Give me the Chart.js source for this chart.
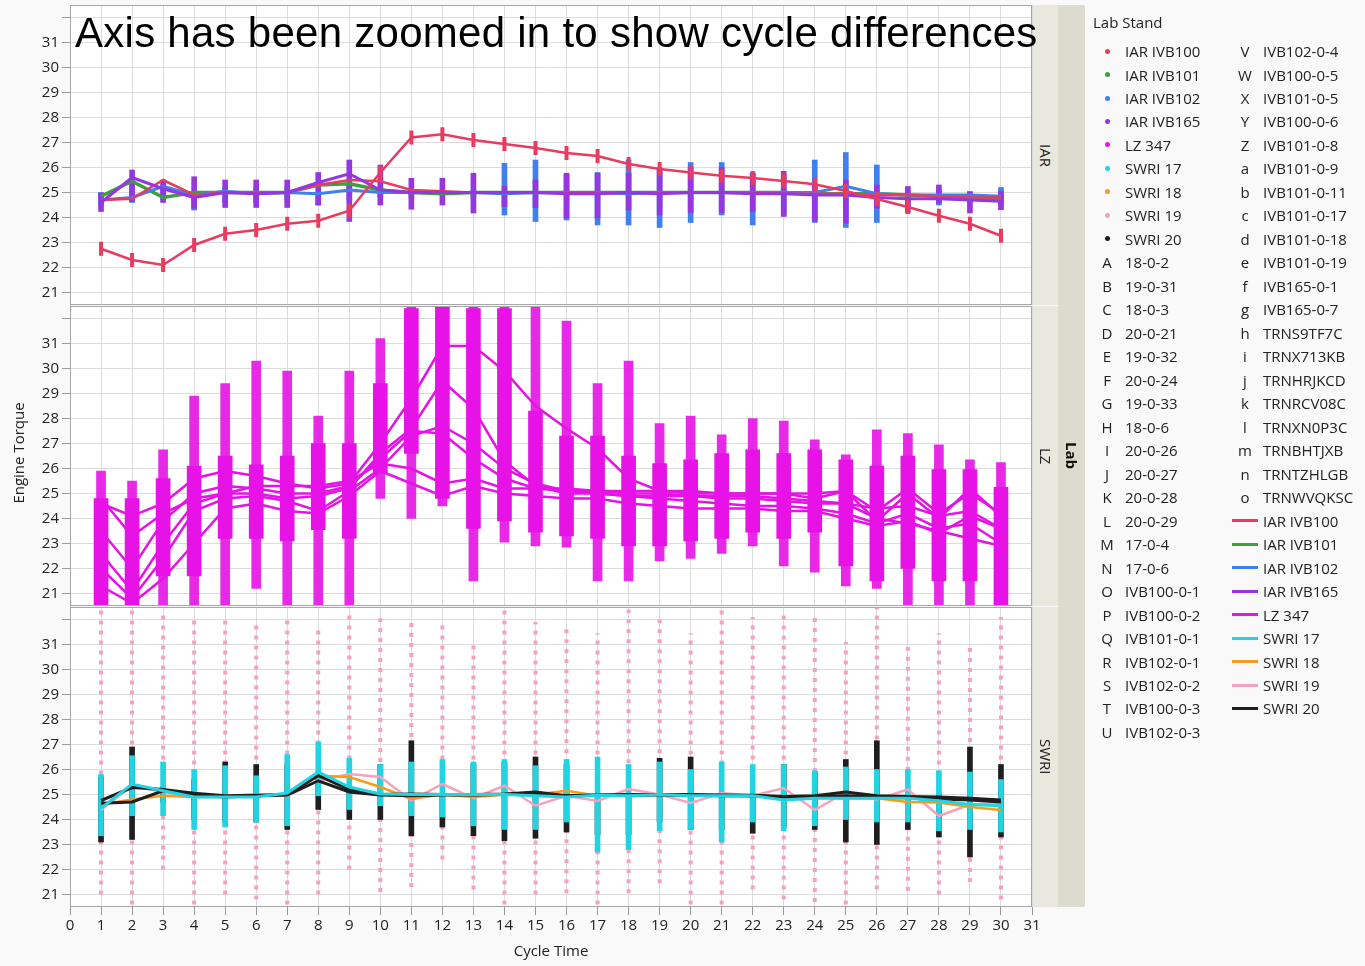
<!DOCTYPE html>
<html><head><meta charset="utf-8">
<script src="https://cdn.jsdelivr.net/npm/chart.js@4.4.1/dist/chart.umd.min.js"></script>
<style>
html,body{margin:0;padding:0;background:#f9f9f9;}
#wrap{position:relative;width:1365px;height:966px;overflow:hidden;background:#f9f9f9;font-family:'Open Sans',sans-serif;color:#222;}
canvas{position:absolute;left:0;}
.strip{position:absolute;left:1033px;width:25px;background:#e9e8df;display:flex;align-items:center;justify-content:center;}
.strip span{writing-mode:vertical-rl;font-size:15px;color:#222;}
#labstrip{position:absolute;left:1058px;top:5px;width:27px;height:902px;background:#dcdbcd;display:flex;align-items:center;justify-content:center;}
#labstrip span{writing-mode:vertical-rl;font-size:15px;font-weight:bold;color:#111;}
#title{position:absolute;left:75px;top:12px;font-family:'Liberation Sans',Arial,sans-serif;font-size:42px;line-height:42px;letter-spacing:0.27px;color:#000;white-space:nowrap;}
#ytitle{position:absolute;left:-42px;top:443px;width:120px;height:20px;line-height:20px;text-align:center;transform:rotate(-90deg);font-size:15px;}
#xtitle{position:absolute;left:451px;top:940px;width:200px;line-height:20px;text-align:center;font-size:15px;}
.lg{position:absolute;font-size:15px;line-height:20px;white-space:nowrap;}
.mk{position:absolute;width:20px;text-align:center;font-size:15px;line-height:20px;}
.dot{position:absolute;width:5px;height:5px;border-radius:50%;}
.sw{position:absolute;width:26px;height:3px;}
</style></head>
<body><div id="wrap">
<canvas id="c1" width="1060" height="340" style="top:-15px"></canvas>
<canvas id="c2" width="1060" height="340" style="top:286px"></canvas>
<canvas id="c3" width="1060" height="379" style="top:587px"></canvas>
<div class="strip" style="top:5px;height:300px"><span>IAR</span></div>
<div class="strip" style="top:306px;height:300px"><span>LZ</span></div>
<div class="strip" style="top:607px;height:300px"><span>SWRI</span></div>
<div id="labstrip"><span>Lab</span></div>
<div id="title">Axis has been zoomed in to show cycle differences</div>
<div id="ytitle">Engine Torque</div>
<div id="xtitle">Cycle Time</div>
<div id="legend"></div>
</div>
<script>
const FONT = "'Open Sans',sans-serif";
const cycles = [1,2,3,4,5,6,7,8,9,10,11,12,13,14,15,16,17,18,19,20,21,22,23,24,25,26,27,28,29,30];
const xTicks = [0,1,2,3,4,5,6,7,8,9,10,11,12,13,14,15,16,17,18,19,20,21,22,23,24,25,26,27,28,29,30,31];
const yTicks = [21,22,23,24,25,26,27,28,29,30,31,32];

// IAR panel
const iar100a = [22.75,22.3,22.1,22.9,23.35,23.5,23.75,23.87,24.27,25.8,27.2,27.33,27.1,26.94,26.78,26.58,26.46,26.14,25.94,25.8,25.67,25.58,25.46,25.33,25.06,24.74,24.42,24.07,23.75,23.27];
const iar100b = [24.7,24.75,25.5,24.9,25.0,25.0,25.0,25.3,25.5,25.45,25.1,25.05,25.0,25.0,25.0,25.0,25.0,25.0,25.0,25.0,25.0,25.0,24.95,24.95,24.95,24.9,24.9,24.85,24.8,24.8];
const iar101 = [24.85,25.45,24.8,25.0,25.0,25.0,25.0,25.3,25.35,25.1,25.0,24.95,25.0,25.0,25.0,25.0,25.0,25.0,25.0,25.0,25.0,25.0,25.0,24.95,24.95,24.95,24.9,24.85,24.8,24.75];
const iar102 = [24.7,24.8,25.25,24.9,25.05,24.95,25.0,24.95,25.1,25.0,25.0,25.0,25.0,24.95,25.0,25.0,25.0,24.95,25.0,25.0,25.0,25.0,25.0,25.0,25.25,24.95,24.9,24.9,24.9,24.85];
const iar165 = [24.6,25.6,25.15,24.8,25.0,24.95,25.0,25.4,25.75,25.1,25.0,25.0,25.0,25.0,25.0,24.95,24.95,25.0,24.95,25.0,25.0,24.95,24.95,24.9,24.9,24.8,24.75,24.75,24.7,24.65];
const iar165Lo = [24.24,24.64,24.6,24.37,24.4,24.4,24.4,24.5,23.84,24.5,24.33,24.5,24.18,24.44,24.4,23.98,23.98,24.3,24.1,24.2,24.2,24.24,24.04,23.84,23.78,24.37,24.18,24.57,24.18,24.31];
const iar165Hi = [24.98,25.9,25.5,25.63,25.5,25.5,25.5,25.8,26.3,26.1,25.57,25.57,25.77,25.24,25.5,25.77,25.77,25.77,26.0,26.0,26.0,25.77,25.85,25.24,25.5,25.3,25.24,25.3,25.04,25.04];
const iar102Lo = [24.5,24.6,24.7,24.3,24.6,24.6,24.7,24.5,24.7,24.8,24.8,24.9,24.8,24.1,23.84,23.9,23.7,23.7,23.6,23.8,24.1,23.7,24.1,23.8,23.6,23.8,24.4,24.5,24.6,24.5];
const iar102Hi = [25.0,25.4,25.3,25.0,25.2,25.2,25.2,24.98,25.3,25.2,25.1,25.1,25.1,26.17,26.3,25.7,25.8,26.3,25.9,26.2,26.2,25.8,25.7,26.3,26.6,26.1,25.0,25.1,25.0,25.2];

// LZ panel
const lzDenseLo = [20.5,20.5,21.7,21.7,23.2,23.2,23.1,23.55,23.2,25.8,26.6,24.8,23.6,23.9,23.45,23.3,23.2,22.9,22.9,23.1,23.2,23.45,23.2,23.45,22.1,21.5,22.0,21.5,21.5,20.5];
const lzDenseHi = [24.8,24.8,25.6,26.1,26.5,26.15,26.5,27.0,27.0,29.4,32.4,32.5,32.4,32.4,28.3,27.3,27.3,26.5,26.2,26.35,26.6,26.75,26.6,26.75,26.35,26.1,26.5,25.96,25.96,25.25];
const lzMarkLo = [20.5,20.5,20.5,20.5,20.5,21.2,20.5,20.5,20.5,24.8,24.0,24.5,21.5,23.05,22.9,22.85,21.5,21.5,22.3,22.4,22.6,22.9,22.1,21.85,21.3,21.2,20.5,20.5,20.5,20.5];
const lzMarkHi = [25.9,25.5,26.75,28.9,29.4,30.3,29.9,28.1,29.9,31.2,32.5,32.5,32.5,32.5,32.5,31.9,29.4,30.3,27.8,28.1,27.35,28.0,27.9,27.15,26.55,27.55,27.4,26.95,26.35,26.24];
const lzRun1 = [24.6,24.1,24.6,25.6,25.9,25.7,25.4,25.2,25.4,27.0,28.8,30.9,30.9,29.9,28.5,27.6,26.8,25.6,25.1,25.0,25.0,25.0,25.0,25.0,25.1,24.3,25.2,24.2,25.0,24.2];
const lzRun2 = [22.6,21.1,23.0,24.6,25.0,25.0,24.8,24.9,25.2,26.6,27.6,29.5,28.4,26.3,25.3,25.0,25.0,24.9,24.9,24.9,24.8,24.8,24.7,24.6,24.6,24.4,24.5,24.1,24.3,23.6];
const lzRun3 = [22.0,20.8,22.4,24.3,24.8,24.9,24.7,24.3,25.1,26.0,27.3,27.7,27.0,26.0,25.4,25.1,25.0,24.9,24.8,24.7,24.6,24.5,24.5,24.4,24.2,23.8,24.2,23.6,23.8,23.0];
const lzRun4 = [23.5,22.0,23.9,25.0,25.3,25.2,25.0,25.0,25.3,26.4,27.5,27.4,26.4,25.6,25.2,25.2,25.1,25.0,25.0,24.9,24.9,24.9,24.8,24.7,24.6,24.0,23.8,23.5,23.2,22.9];
const lzRun5 = [21.3,20.6,21.6,23.0,24.4,24.6,24.3,24.2,24.9,25.9,25.4,24.9,25.3,25.0,24.9,24.8,24.8,24.6,24.5,24.4,24.4,24.4,24.3,24.3,24.0,23.7,23.9,23.4,24.1,23.6];
const lzRun6 = [24.8,23.3,24.2,24.8,25.0,25.3,25.3,25.3,25.5,26.2,26.0,25.4,25.6,25.2,25.2,25.1,25.1,25.1,25.1,25.1,25.0,25.0,25.0,24.8,25.1,23.9,25.0,24.0,25.2,24.1];

// SWRI panel
const swri17 = [24.45,25.42,25.15,24.9,24.9,24.9,25.06,25.9,25.3,25.02,25.0,25.0,25.0,25.0,24.95,24.9,24.97,24.95,25.0,24.95,24.95,24.95,24.78,24.85,24.85,24.85,24.85,24.75,24.6,24.55];
const swri18 = [24.6,24.8,24.95,24.9,24.9,24.95,25.0,25.75,25.7,25.3,24.82,25.0,24.9,25.0,25.0,25.15,24.95,25.0,25.0,24.95,24.95,24.93,24.9,24.88,24.85,24.85,24.7,24.68,24.5,24.38];
const swri19 = [24.38,25.35,25.1,24.9,24.95,25.0,24.95,25.55,25.82,25.7,24.76,25.42,24.85,25.35,24.55,24.95,24.74,25.22,25.0,24.66,25.06,24.95,25.26,24.38,25.1,24.8,25.2,24.14,24.6,24.65];
const swri20a = [24.76,25.28,25.2,25.05,24.95,24.97,25.0,25.75,25.2,25.0,25.02,25.0,25.0,25.02,25.1,24.95,24.98,25.0,25.0,25.0,24.98,24.97,24.92,24.95,25.1,24.95,24.92,24.9,24.85,24.78];
const swri20b = [24.65,24.7,25.15,25.0,24.9,24.95,24.98,25.55,25.1,24.98,24.95,24.98,24.98,25.0,25.02,24.95,24.97,24.97,24.98,24.97,24.95,24.95,24.9,24.92,24.95,24.9,24.88,24.82,24.78,24.7];
const swri17Lo = [23.35,24.15,24.15,23.6,23.7,23.9,23.75,24.95,24.4,24.55,24.15,24.1,23.75,23.6,23.6,23.9,22.7,22.8,23.55,23.6,23.1,23.9,23.55,23.75,24.0,23.9,23.9,23.55,23.6,23.5];
const swri17Hi = [25.8,26.55,26.3,26.0,26.15,25.75,26.6,27.1,26.45,26.2,26.3,26.4,26.3,26.4,26.15,26.4,26.5,26.2,26.3,26.0,26.3,26.2,26.2,25.95,26.1,26.0,26.0,25.95,25.9,25.6];
const swri20Lo = [23.1,23.2,24.7,24.0,23.9,23.9,23.6,24.4,24.0,24.0,23.35,23.7,23.35,23.15,23.25,23.5,23.4,23.4,23.9,23.6,23.6,23.45,23.7,23.6,23.1,23.0,23.6,23.3,22.5,23.3];
const swri20Hi = [25.7,26.9,25.3,25.6,26.3,26.2,26.2,25.75,25.3,26.2,27.15,25.0,26.2,26.3,26.5,26.2,25.0,25.0,26.45,26.5,25.0,25.0,26.2,25.9,26.4,27.15,25.0,25.0,26.9,26.2];
const swri19Lo = [21.0,20.6,22.0,20.6,21.0,20.8,20.6,21.0,22.0,21.1,21.3,22.4,21.2,20.6,21.0,21.05,20.6,21.05,21.45,20.6,20.6,21.2,20.8,20.7,20.6,21.2,21.15,21.0,21.5,20.8];
const swri19Hi = [32.4,32.4,32.4,32.2,32.2,32.0,32.2,31.6,32.4,32.05,31.9,31.9,31.2,32.4,31.9,31.7,31.45,32.4,32.2,31.45,32.4,32.1,32.4,32.25,31.1,32.5,30.9,31.45,31.05,32.1];

// legend
const legendLeft = [
 ['dot','#ea3b5f','IAR IVB100'],['dot','#3f9f3f','IAR IVB101'],['dot','#3f7fef','IAR IVB102'],['dot','#9536e0','IAR IVB165'],
 ['dot','#e815e8','LZ 347'],['dot','#22d3e2','SWRI 17'],['dot','#f89a1c','SWRI 18'],['dot','#f5a3bd','SWRI 19'],['dot','#1e1e1e','SWRI 20'],
 ['A','','18-0-2'],['B','','19-0-31'],['C','','18-0-3'],['D','','20-0-21'],['E','','19-0-32'],['F','','20-0-24'],['G','','19-0-33'],
 ['H','','18-0-6'],['I','','20-0-26'],['J','','20-0-27'],['K','','20-0-28'],['L','','20-0-29'],['M','','17-0-4'],['N','','17-0-6'],
 ['O','','IVB100-0-1'],['P','','IVB100-0-2'],['Q','','IVB101-0-1'],['R','','IVB102-0-1'],['S','','IVB102-0-2'],['T','','IVB100-0-3'],['U','','IVB102-0-3']];
const legendRight = [
 ['V','','IVB102-0-4'],['W','','IVB100-0-5'],['X','','IVB101-0-5'],['Y','','IVB100-0-6'],['Z','','IVB101-0-8'],['a','','IVB101-0-9'],
 ['b','','IVB101-0-11'],['c','','IVB101-0-17'],['d','','IVB101-0-18'],['e','','IVB101-0-19'],['f','','IVB165-0-1'],['g','','IVB165-0-7'],
 ['h','','TRNS9TF7C'],['i','','TRNX713KB'],['j','','TRNHRJKCD'],['k','','TRNRCV08C'],['l','','TRNXN0P3C'],['m','','TRNBHTJXB'],
 ['n','','TRNTZHLGB'],['o','','TRNWVQKSC'],
 ['line','#ea3b5f','IAR IVB100'],['line','#3f9f3f','IAR IVB101'],['line','#3f7fef','IAR IVB102'],['line','#9536e0','IAR IVB165'],
 ['line','#e815e8','LZ 347'],['line','#22d3e2','SWRI 17'],['line','#f89a1c','SWRI 18'],['line','#f5a3bd','SWRI 19'],['line','#1e1e1e','SWRI 20']];

const C = {red:'#ea3b5f',green:'#3f9f3f',blue:'#3f7fef',purple:'#9536e0',mag:'#e612e6',cyan:'#22d3e2',orange:'#f89a1c',pink:'#f5a3bd',black:'#1e1e1e'};

function pts(arr){ return cycles.map((c,i)=>({x:c,y:arr[i]})); }
function rng(lo,hi){ return cycles.map((c,i)=>({x:c,y:[lo[i],hi[i]]})); }
function lineDs(arr,color,w,order,extra){ return Object.assign({type:'line',data:pts(arr),borderColor:color,backgroundColor:color,borderWidth:w,pointRadius:0,tension:0,order:order,clip:0},extra||{}); }
function barDs(lo,hi,color,w,order){ return {type:'bar',data:rng(lo,hi),backgroundColor:color,borderWidth:0,barThickness:w,grouped:false,order:order,clip:0}; }

const framePlugin = {
  id:'frame',
  beforeDraw(chart){ const a=chart.chartArea,ctx=chart.ctx; ctx.save(); ctx.fillStyle='#ffffff'; ctx.fillRect(a.left,a.top,a.right-a.left,a.bottom-a.top); ctx.restore(); },
  afterDraw(chart){ const a=chart.chartArea,ctx=chart.ctx; ctx.save(); ctx.strokeStyle='#a6a6a6'; ctx.lineWidth=1; ctx.strokeRect(a.left+0.5,a.top+0.5,a.right-a.left-1,a.bottom-a.top-1); ctx.restore(); }
};

function opts(bottom){
  return {
    responsive:false, animation:false, devicePixelRatio:1,
    layout:{padding:{left:0,right:28,top:20,bottom:bottom?0:20}},
    plugins:{legend:{display:false},tooltip:{enabled:false}},
    scales:{
      x:{type:'linear',min:0,max:31,offset:false,
        afterBuildTicks:s=>{ s.ticks = xTicks.map(v=>({value:v})); },
        afterFit:s=>{ s.height = bottom?59:0; },
        grid:{color:'#dcdcdc',lineWidth:1,drawTicks:bottom,tickLength:8,tickColor:'#9a9a9a',offset:false},
        border:{display:false},
        ticks:{display:bottom,autoSkip:false,maxRotation:0,color:'#222',font:{family:FONT,size:15},padding:2}
      },
      y:{type:'linear',min:20.5,max:32.5,
        afterBuildTicks:s=>{ s.ticks = yTicks.map(v=>({value:v})); },
        afterFit:s=>{ s.width = 70; },
        grid:{color:'#dcdcdc',lineWidth:1,tickLength:8,tickColor:'#9a9a9a'},
        border:{display:true,color:'#a6a6a6'},
        ticks:{color:'#222',font:{family:FONT,size:15},padding:3,callback:(v)=> v===32?'':String(v)}
      }
    }
  };
}

// panel 1 IAR
new Chart(document.getElementById('c1'),{
  type:'line',
  data:{datasets:[
    lineDs(iar100a,C.red,2.5,1,{pointStyle:'line',pointRadius:7,pointRotation:90,pointBorderWidth:4,pointBorderColor:C.red}),
    lineDs(iar165,C.purple,3,2),
    lineDs(iar100b,C.red,2.5,3),
    lineDs(iar102,C.blue,3,4),
    lineDs(iar101,C.green,3.5,5),
    barDs(iar165Lo,iar165Hi,C.purple,5,8),
    barDs(iar102Lo,iar102Hi,C.blue,5,9)
  ]},
  options:opts(false), plugins:[framePlugin]
});

// panel 2 LZ
new Chart(document.getElementById('c2'),{
  type:'line',
  data:{datasets:[
    lineDs(lzRun1,C.mag,2.5,1), lineDs(lzRun2,C.mag,2.5,1), lineDs(lzRun3,C.mag,2.5,1),
    lineDs(lzRun4,C.mag,2.5,1), lineDs(lzRun5,C.mag,2.5,1), lineDs(lzRun6,C.mag,2.5,1),
    barDs(lzDenseLo,lzDenseHi,C.mag,14,8),
    barDs(lzMarkLo,lzMarkHi,'rgba(230,18,230,0.9)',9,9)
  ]},
  options:opts(false), plugins:[framePlugin]
});

// panel 3 SWRI
const pinkCols = [];
cycles.forEach((c,i)=>{ pinkCols.push({x:c,y:swri19Lo[i]}); pinkCols.push({x:c,y:swri19Hi[i]}); pinkCols.push({x:c,y:null}); });
new Chart(document.getElementById('c3'),{
  type:'line',
  data:{datasets:[
    lineDs(swri17,C.cyan,3,1),
    lineDs(swri20a,C.black,3,2),
    lineDs(swri20b,C.black,3,2),
    lineDs(swri18,C.orange,2.5,3),
    lineDs(swri19,C.pink,2.5,4),
    barDs(swri17Lo,swri17Hi,C.cyan,5,8),
    barDs(swri20Lo,swri20Hi,C.black,5,9),
    {type:'line',data:pinkCols,borderColor:C.pink,borderWidth:4,borderDash:[4,6],borderCapStyle:'butt',pointRadius:0,spanGaps:false,order:12,clip:0}
  ]},
  options:opts(true), plugins:[framePlugin]
});

// legend (HTML)
(function(){
  const L = document.getElementById('legend');
  let h = '<div class="lg" style="left:1093px;top:12px">Lab Stand</div>';
  const y0 = 51, dy = 23.48;
  legendLeft.forEach((e,i)=>{
    const yc = y0 + i*dy;
    if(e[0]==='dot') h += `<div class="dot" style="left:${1105}px;top:${(yc-2.5).toFixed(1)}px;background:${e[1]}"></div>`;
    else h += `<div class="mk" style="left:1097px;top:${(yc-10).toFixed(1)}px">${e[0]}</div>`;
    h += `<div class="lg" style="left:1125px;top:${(yc-10).toFixed(1)}px">${e[2]}</div>`;
  });
  legendRight.forEach((e,i)=>{
    const yc = y0 + i*dy;
    if(e[0]==='line') h += `<div class="sw" style="left:1232px;top:${(yc-1.5).toFixed(1)}px;background:${e[1]}"></div>`;
    else h += `<div class="mk" style="left:1235px;top:${(yc-10).toFixed(1)}px">${e[0]}</div>`;
    h += `<div class="lg" style="left:1263px;top:${(yc-10).toFixed(1)}px">${e[2]}</div>`;
  });
  L.innerHTML = h;
})();
</script>
</body></html>
